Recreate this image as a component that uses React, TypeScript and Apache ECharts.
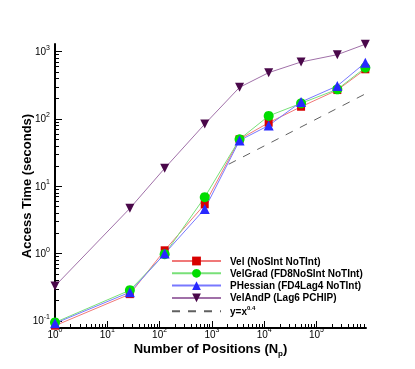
import React, { useEffect, useRef } from 'react';
import * as echarts from 'echarts';

// Number of positions (x) and access times in seconds (y)
const positions = [1, 27, 125, 729, 3375, 12167, 50653, 250047, 857375];
const velTimes = [0.085, 0.25, 1.12, 5.4, 50, 88, 152, 269, 547];
const velGradTimes = [0.095, 0.286, 0.98, 6.9, 50, 111, 171, 276, 578];
const pHessianTimes = [0.092, 0.267, 1.0, 4.6, 48, 80, 179, 310, 687];
const velAndPTimes = [0.33, 4.7, 18.5, 84, 295, 488, 703, 903, 1290];
const refLineX = [2100, 857375];
const refLineY = [21.3, 236];

const seriesNames = [
  'Vel (NoSInt NoTInt)',
  'VelGrad (FD8NoSInt NoTInt)',
  'PHessian (FD4Lag4 NoTInt)',
  'VelAndP (Lag6 PCHIP)',
  'y=x^0.4',
];

const xMajorTicks = [1, 10, 100, 1000, 10000, 100000];
const yMajorTicks = [0.1, 1, 10, 100, 1000];
const minorMultipliers = [2, 3, 4, 5, 6, 7, 8, 9];
const X_MIN = 1;
const X_MAX = 883000;
const Y_MIN = 0.0785;
const Y_MAX = 1300;

const FONT = '"Liberation Sans", Arial, Helvetica, sans-serif';

const lg = (v: number) => Math.log10(v);

function minorTicks(majors: number[], lo: number, hi: number): number[] {
  const out: number[] = [];
  const decades = [majors[0] / 10, ...majors];
  for (const d of decades) {
    for (const m of minorMultipliers) {
      const v = d * m;
      if (v > lo && v < hi) out.push(lg(v));
    }
  }
  return out;
}

const pairs = (xs: number[], ys: number[]) => xs.map((x, i) => [lg(x), lg(ys[i])]);

const tickRich = {
  b: { fontSize: 10, fontFamily: FONT, color: '#000', lineHeight: 16 },
  s: { fontSize: 7, fontFamily: FONT, color: '#000', lineHeight: 7, verticalAlign: 'top' as const },
};

const labelFmt = (v: number) => `{b|10}{s|${Math.round(v)}}`;

export default function App() {
  const ref = useRef<HTMLDivElement>(null);
  useEffect(() => {
    if (!ref.current) return;
    const chart = echarts.init(ref.current, undefined, { renderer: 'svg' });
    const xMin = lg(X_MIN), xMax = lg(X_MAX), yMin = lg(Y_MIN), yMax = lg(Y_MAX);
    const mkSeries = (
      name: string,
      ys: number[],
      lineColor: string,
      markColor: string,
      symbol: string,
      size: number
    ) => ({
      name,
      type: 'line',
      data: pairs(positions, ys),
      symbol,
      symbolSize: size,
      clip: false,
      lineStyle: { color: lineColor, width: 1 },
      itemStyle: { color: markColor },
    });
    chart.setOption({
      animation: false,
      grid: { left: 55, right: 49, top: 44, bottom: 41 },
      xAxis: [
        {
          type: 'value',
          min: xMin,
          max: xMax,
          axisLine: { show: true, onZero: false, lineStyle: { color: '#000', width: 2 } },
          axisTick: { show: true, inside: true, length: 7, customValues: xMajorTicks.map(lg), lineStyle: { color: '#000', width: 1 } },
          axisLabel: {
            show: true,
            margin: -2,
            customValues: xMajorTicks.map(lg),
            formatter: labelFmt,
            rich: tickRich,
          },
          splitLine: { show: false },
          name: '{a|Number of Positions (N}{s|p}{a|)}',
          nameLocation: 'middle',
          nameGap: 11,
          nameMoveOverlap: false,
          nameTextStyle: {
            rich: {
              a: { fontSize: 13, fontWeight: 'bold', fontFamily: FONT, color: '#000', lineHeight: 18 },
              s: { fontSize: 8, fontWeight: 'bold', fontFamily: FONT, color: '#000', lineHeight: 8, verticalAlign: 'bottom' },
            },
          },
        },
        {
          type: 'value',
          min: xMin,
          max: xMax,
          position: 'bottom',
          axisLine: { show: false, onZero: false },
          axisTick: { show: true, inside: true, length: 4, customValues: minorTicks(xMajorTicks, X_MIN, X_MAX), lineStyle: { color: '#000', width: 1 } },
          axisLabel: { show: false },
          splitLine: { show: false },
        },
      ],
      yAxis: [
        {
          type: 'value',
          min: yMin,
          max: yMax,
          axisLine: { show: true, onZero: false, lineStyle: { color: '#000', width: 2 } },
          axisTick: { show: true, inside: true, length: 7, customValues: yMajorTicks.map(lg), lineStyle: { color: '#000', width: 1 } },
          axisLabel: {
            show: true,
            margin: 5,
            customValues: yMajorTicks.map(lg),
            formatter: labelFmt,
            rich: tickRich,
          },
          splitLine: { show: false },
          name: 'Access Time (seconds)',
          nameLocation: 'middle',
          nameRotate: 90,
          nameGap: 22,
          nameMoveOverlap: false,
          nameTextStyle: { fontSize: 13, fontWeight: 'bold', fontFamily: FONT, color: '#000' },
        },
        {
          type: 'value',
          min: yMin,
          max: yMax,
          position: 'left',
          axisLine: { show: false, onZero: false },
          axisTick: { show: true, inside: true, length: 4, customValues: minorTicks(yMajorTicks, Y_MIN, Y_MAX), lineStyle: { color: '#000', width: 1 } },
          axisLabel: { show: false },
          splitLine: { show: false },
        },
      ],
      legend: {
        orient: 'vertical',
        left: 171,
        top: 256,
        padding: 0,
        itemWidth: 49,
        itemHeight: 11,
        itemGap: 2.3,
        selectedMode: false,
        data: [
          ...seriesNames.slice(0, 4),
          { name: seriesNames[4], itemStyle: { color: 'rgba(0,0,0,0)', borderWidth: 0, opacity: 0 } },
        ],
        formatter: (name: string) => (name === 'y=x^0.4' ? '{a|y=x}{s|0.4}' : `{a|${name}}`),
        textStyle: {
          padding: [0, 0, 0, 4],
          rich: {
            a: { fontSize: 10, fontWeight: 'bold', fontFamily: FONT, color: '#000', lineHeight: 12 },
            s: { fontSize: 6, fontWeight: 'bold', fontFamily: FONT, color: '#000', lineHeight: 6, verticalAlign: 'top' },
          },
        },
      },
      series: [
        mkSeries(seriesNames[0], velTimes, '#f07878', '#d80000', 'rect', 8),
        mkSeries(seriesNames[1], velGradTimes, '#78e078', '#00dd00', 'circle', 10),
        mkSeries(seriesNames[2], pHessianTimes, '#7878ff', '#2828ff', 'triangle', 10),
        mkSeries(seriesNames[3], velAndPTimes, '#a070a8', '#4a084a', 'path://M0,0 L10,0 L5,9 Z', 9),
        {
          name: seriesNames[4],
          type: 'line',
          data: pairs(refLineX, refLineY),
          symbol: 'none',
          clip: false,
          lineStyle: { color: '#606060', width: 1, type: [8, 8] },
          itemStyle: { color: '#606060' },
        },
      ],
    });
    return () => chart.dispose();
  }, []);
  return <div ref={ref} style={{ position: 'fixed', left: 0, top: 0, width: 415, height: 369 }} />;
}
